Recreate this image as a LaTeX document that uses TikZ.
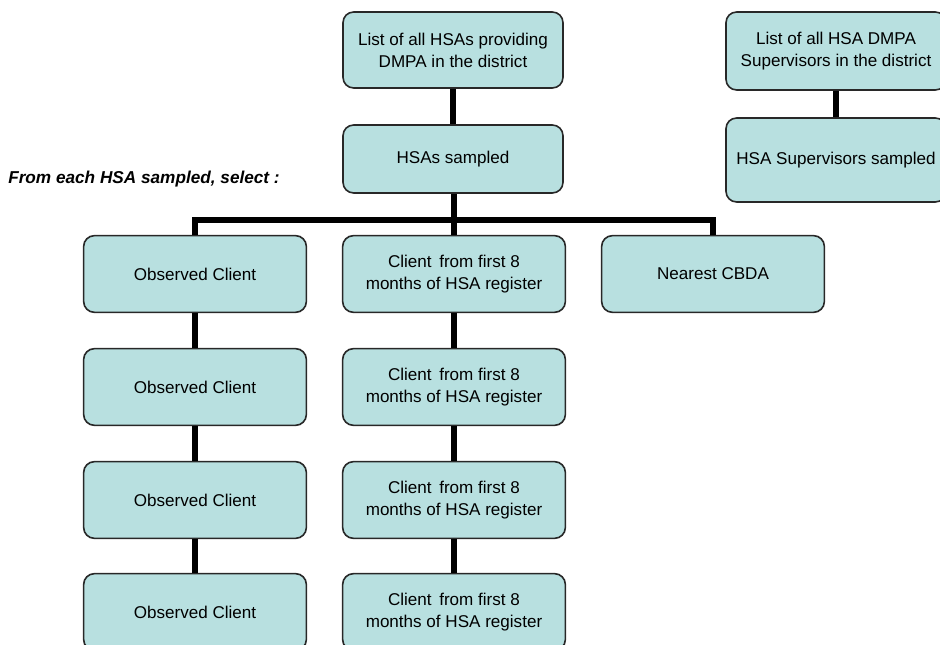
\documentclass[tikz,border=0pt]{standalone}
\usepackage{fontspec}
\setmainfont{Liberation Sans}
\definecolor{boxfill}{RGB}{184,224,224}
\definecolor{boxline}{RGB}{40,40,40}
\begin{document}
\begin{tikzpicture}[x=0.75pt,y=-0.75pt,
  box/.style={draw=boxline,line width=1.2pt,fill=boxfill,rounded corners=8pt,
    minimum width=167pt,minimum height=57.5pt,align=center,inner sep=2pt,
    font=\fontsize{12.8}{16.5}\selectfont},
  conn/.style={line width=3.8pt,black}]
\useasboundingbox (0,0) rectangle (940,645);
\clip (0,0) rectangle (940,645);
% top chain
\node[box,minimum width=165pt,minimum height=57pt] (list) at (453,50) {List of all HSAs providing\\DMPA in the district};
\node[box,minimum width=165pt,minimum height=51pt] (samp) at (453,159) {HSAs sampled};
% right chain
\node[box,minimum width=165pt,minimum height=58.5pt] (slist) at (836,51) {List of all HSA DMPA\\Supervisors in the district};
\node[box,minimum width=165pt,minimum height=63pt] (ssamp) at (836,160) {HSA Supervisors sampled};
% label
\node[anchor=west,inner sep=0pt,font=\bfseries\itshape\fontsize{12.9}{15}\selectfont] (lbl) at (8,179) {From each HSA sampled, select :};
% columns
\node[box] (oc1) at (195,274) {Observed Client};
\node[box] (oc2) at (195,387) {Observed Client};
\node[box] (oc3) at (195,500) {Observed Client};
\node[box] (oc4) at (195,612) {Observed Client};
\node[box] (cf1) at (454,274) {Client\, from first 8\\months of HSA register};
\node[box] (cf2) at (454,387) {Client\, from first 8\\months of HSA register};
\node[box] (cf3) at (454,500) {Client\, from first 8\\months of HSA register};
\node[box] (cf4) at (454,612) {Client\, from first 8\\months of HSA register};
\node[box] (cbda) at (713,274) {Nearest CBDA};
\coordinate (bus) at (454,220);
% connectors
\draw[conn] (list.south) -- (list.south |- samp.north);
\draw[conn] (slist.south) -- (slist.south |- ssamp.north);
\draw[conn] (samp.south -| bus) -- (bus);
\draw[conn] (oc1.north) |- (bus) -| (cbda.north);
\draw[conn] (bus) -- (cf1.north);
\draw[conn] (oc1) -- (oc2);
\draw[conn] (oc2) -- (oc3);
\draw[conn] (oc3) -- (oc4);
\draw[conn] (cf1) -- (cf2);
\draw[conn] (cf2) -- (cf3);
\draw[conn] (cf3) -- (cf4);
\end{tikzpicture}
\end{document}
